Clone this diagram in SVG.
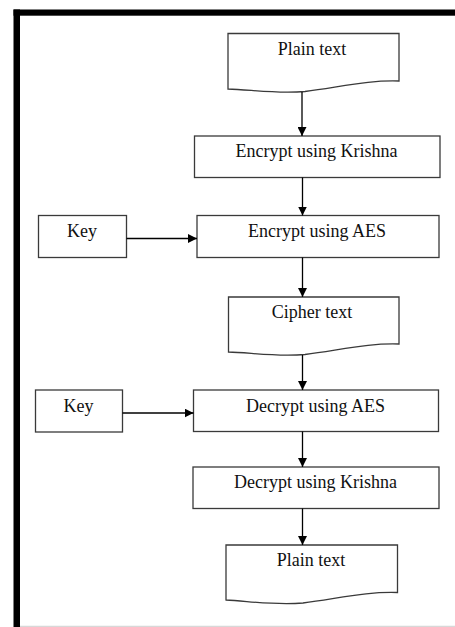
<svg xmlns="http://www.w3.org/2000/svg" width="455" height="627" viewBox="0 0 455 627">
<style>
.box{fill:#fff;stroke:#3a3a3a;stroke-width:1.3}
.t{font-family:"Liberation Serif","Times New Roman",serif;font-size:18px;fill:#111;text-anchor:middle}
.c{stroke:#000;stroke-width:1.3;fill:none}
</style>
<defs>
<marker id="ah" viewBox="0 0 10 10" refX="10" refY="5" markerWidth="9" markerHeight="9" markerUnits="userSpaceOnUse" orient="auto">
<path d="M0,0 L10,5 L0,10 Z" fill="#000"/>
</marker>
</defs>
<rect x="0" y="0" width="455" height="627" fill="#fff"/>
<g id="frame">
<rect x="13.5" y="9.5" width="441.5" height="6.2" fill="#000"/>
<rect x="13.5" y="9.5" width="6.5" height="617.5" fill="#000"/>
<line x1="20" y1="626.3" x2="455" y2="626.3" stroke="#d8d8d8" stroke-width="1.2"/>
</g>
<g id="plain1">
<path class="box" d="M228,33.5 H399 V81 C370,80 345,86 305,91.5 C275,94 250,89.5 228,89 Z"/>
<text class="t" x="312" y="55">Plain text</text>
</g>
<g id="encKrishna">
<rect class="box" x="194.5" y="136" width="245.5" height="41.5"/>
<text class="t" x="316.5" y="157">Encrypt using Krishna</text>
</g>
<g id="key1">
<rect class="box" x="38.5" y="215.5" width="88" height="42"/>
<text class="t" x="82" y="237">Key</text>
</g>
<g id="encAES">
<rect class="box" x="197" y="215.5" width="242" height="42"/>
<text class="t" x="317" y="237">Encrypt using AES</text>
</g>
<g id="cipher">
<path class="box" d="M228.5,297 H399 V344 C370,343 345,349 305,354.5 C275,357 250,352.5 228.5,352 Z"/>
<text class="t" x="312" y="318">Cipher text</text>
</g>
<g id="key2">
<rect class="box" x="35.5" y="390" width="87" height="42"/>
<text class="t" x="78.5" y="412">Key</text>
</g>
<g id="decAES">
<rect class="box" x="193.5" y="390" width="245" height="41.5"/>
<text class="t" x="315.5" y="411.5">Decrypt using AES</text>
</g>
<g id="decKrishna">
<rect class="box" x="193" y="467" width="246" height="41.5"/>
<text class="t" x="315.5" y="487.5">Decrypt using Krishna</text>
</g>
<g id="plain2">
<path class="box" d="M226,545 H397.5 V592.5 C368,591.5 343,597.5 303,603 C273,605.5 248,601 226,600 Z"/>
<text class="t" x="311" y="566">Plain text</text>
</g>
<g id="connectors">
<line class="c" x1="302" y1="92" x2="302" y2="136" marker-end="url(#ah)"/>
<line class="c" x1="302.5" y1="177.5" x2="302.5" y2="215.5" marker-end="url(#ah)"/>
<line class="c" x1="126.5" y1="238.5" x2="197" y2="238.5" marker-end="url(#ah)"/>
<line class="c" x1="302.5" y1="257.5" x2="302.5" y2="297" marker-end="url(#ah)"/>
<line class="c" x1="302.5" y1="355" x2="302.5" y2="390" marker-end="url(#ah)"/>
<line class="c" x1="122.5" y1="413" x2="193.5" y2="413" marker-end="url(#ah)"/>
<line class="c" x1="302.5" y1="431.5" x2="302.5" y2="467" marker-end="url(#ah)"/>
<line class="c" x1="302.5" y1="508.5" x2="302.5" y2="545" marker-end="url(#ah)"/>
</g>
</svg>
